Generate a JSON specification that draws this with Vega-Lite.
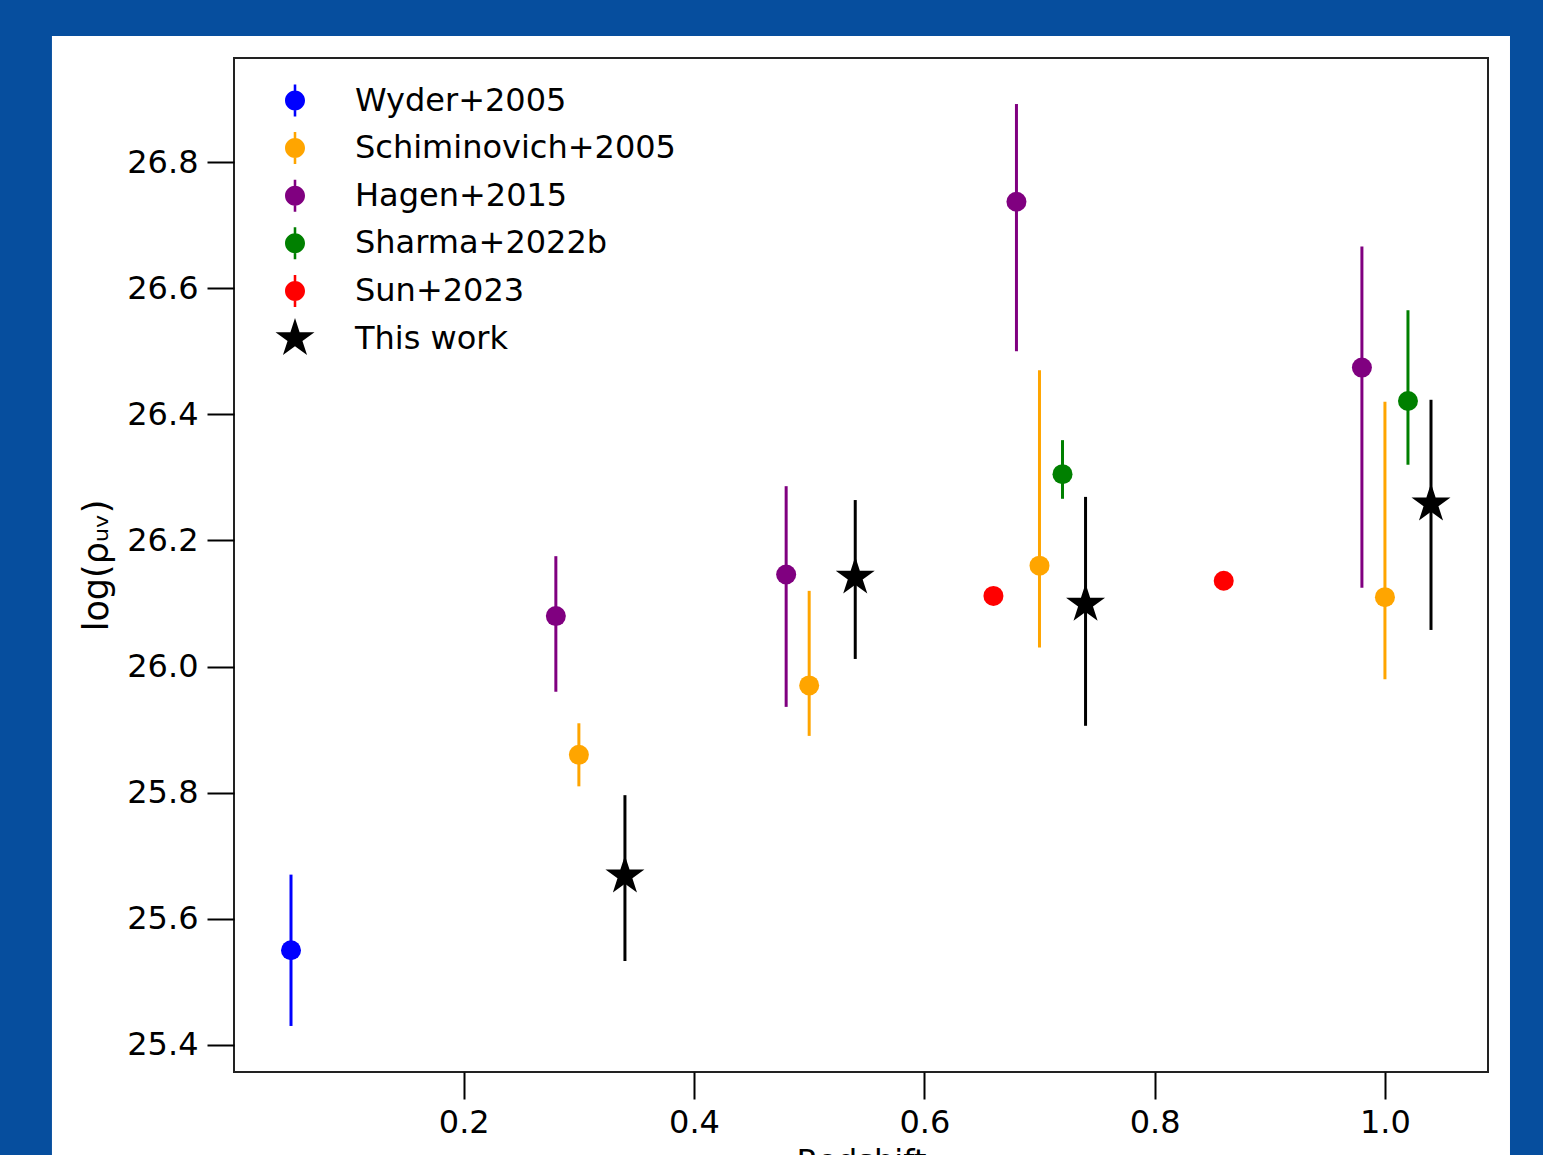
{
  "$schema": "https://vega.github.io/schema/vega-lite/v6.json",
  "autosize": {"type": "none"},
  "width": 1254,
  "height": 1014,
  "padding": {"left": 234, "top": 58, "right": 55, "bottom": 83},
  "background": "#064e9e",
  "config": {
    "font": "DejaVu Sans",
    "view": {"stroke": null},
    "axis": {
      "labelFont": "DejaVu Sans",
      "labelFontSize": 32,
      "labelColor": "#000000",
      "tickSize": 27,
      "tickWidth": 2,
      "tickColor": "#000000",
      "domain": false,
      "grid": false,
      "titleFont": "DejaVu Sans",
      "titleFontSize": 32,
      "titleFontWeight": "normal",
      "titleColor": "#000000"
    }
  },
  "resolve": {"legend": {"color": "independent", "shape": "independent"}},
  "data": {
    "values": [
      {"series": "Wyder+2005", "z": 0.05, "y": 25.55, "lo": 25.43, "hi": 25.67},
      {"series": "Schiminovich+2005", "z": 0.3, "y": 25.86, "lo": 25.81, "hi": 25.91},
      {"series": "Schiminovich+2005", "z": 0.5, "y": 25.97, "lo": 25.89, "hi": 26.12},
      {"series": "Schiminovich+2005", "z": 0.7, "y": 26.16, "lo": 26.03, "hi": 26.47},
      {"series": "Schiminovich+2005", "z": 1.0, "y": 26.11, "lo": 25.98, "hi": 26.42},
      {"series": "Hagen+2015", "z": 0.28, "y": 26.08, "lo": 25.96, "hi": 26.175},
      {"series": "Hagen+2015", "z": 0.48, "y": 26.146, "lo": 25.936, "hi": 26.286},
      {"series": "Hagen+2015", "z": 0.68, "y": 26.737, "lo": 26.5, "hi": 26.892},
      {"series": "Hagen+2015", "z": 0.98, "y": 26.474, "lo": 26.125, "hi": 26.666},
      {"series": "Sharma+2022b", "z": 0.72, "y": 26.305, "lo": 26.266, "hi": 26.359},
      {"series": "Sharma+2022b", "z": 1.02, "y": 26.421, "lo": 26.32, "hi": 26.565},
      {"series": "Sun+2023", "z": 0.66, "y": 26.112, "lo": 26.105, "hi": 26.119},
      {"series": "Sun+2023", "z": 0.86, "y": 26.136, "lo": 26.125, "hi": 26.146},
      {"series": "This work", "z": 0.34, "y": 25.668, "lo": 25.533, "hi": 25.796},
      {"series": "This work", "z": 0.54, "y": 26.142, "lo": 26.012, "hi": 26.264},
      {"series": "This work", "z": 0.74, "y": 26.099, "lo": 25.906, "hi": 26.269},
      {"series": "This work", "z": 1.04, "y": 26.258, "lo": 26.058, "hi": 26.423}
    ]
  },
  "layer": [
    {
      "data": {"values": [{}]},
      "mark": {"type": "rect", "fill": "#ffffff", "stroke": null},
      "encoding": {
        "x": {"datum": -0.1576, "type": "quantitative",
              "scale": {"domain": [0.0005, 1.0895], "nice": false, "zero": false},
              "axis": {"values": [0.2, 0.4, 0.6, 0.8, 1.0], "format": ".1f", "title": "Redshift", "labelPadding": 8, "titlePadding": 8, "zindex": 1}},
        "x2": {"datum": 1.1086},
        "y": {"datum": 27.0, "type": "quantitative",
              "scale": {"domain": [25.357, 26.965], "nice": false, "zero": false},
              "axis": {"values": [25.4, 25.6, 25.8, 26.0, 26.2, 26.4, 26.6, 26.8], "format": ".1f", "title": "log(ρᵤᵥ)", "titleFontSize": 35, "labelPadding": 9, "titlePadding": 12, "zindex": 1}},
        "y2": {"datum": 24.9}
      }
    },
    {
      "mark": {"type": "rule", "strokeWidth": 3},
      "encoding": {
        "x": {"field": "z", "type": "quantitative"},
        "y": {"field": "lo", "type": "quantitative"},
        "y2": {"field": "hi"},
        "color": {"field": "series", "type": "nominal", "legend": null,
                  "scale": {"domain": ["Wyder+2005", "Schiminovich+2005", "Hagen+2015", "Sharma+2022b", "Sun+2023", "This work"],
                            "range": ["#0000ff", "#ffa500", "#800080", "#008000", "#ff0000", "#000000"]}}
      }
    },
    {
      "transform": [{"filter": "datum.series !== 'This work'"}],
      "mark": {"type": "point", "shape": "circle", "size": 400, "filled": true, "opacity": 1, "strokeWidth": 0},
      "encoding": {
        "x": {"field": "z", "type": "quantitative"},
        "y": {"field": "y", "type": "quantitative"},
        "color": {"field": "series", "type": "nominal", "legend": null}
      }
    },
    {
      "transform": [{"filter": "datum.series === 'This work'"}],
      "mark": {"type": "point", "shape": "M0,-1L-0.2245,-0.309L-0.9511,-0.309L-0.3633,0.118L-0.5878,0.809L0,0.382L0.5878,0.809L0.3633,0.118L0.9511,-0.309L0.2245,-0.309Z", "size": 1681, "filled": true, "opacity": 1, "strokeWidth": 0},
      "encoding": {
        "x": {"field": "z", "type": "quantitative"},
        "y": {"field": "y", "type": "quantitative"},
        "color": {"field": "series", "type": "nominal", "legend": null}
      }
    },
    {
      "mark": {"type": "point", "filled": true, "opacity": 0, "size": 0},
      "encoding": {
        "x": {"field": "z", "type": "quantitative"},
        "y": {"field": "y", "type": "quantitative"},
        "color": {"field": "series", "type": "nominal",
                  "legend": {"title": null, "orient": "none", "legendX": 45, "legendY": 26.5, "direction": "vertical",
                             "symbolSize": 1024, "symbolOpacity": 1, "symbolStrokeWidth": 0,
                             "labelFont": "DejaVu Sans", "labelFontSize": 32, "labelColor": "#000000", "labelOffset": 44,
                             "rowPadding": 9.6, "padding": 0, "labelLimit": 1000, "zindex": 2}},
        "shape": {"field": "series", "type": "nominal",
                  "scale": {"domain": ["Wyder+2005", "Schiminovich+2005", "Hagen+2015", "Sharma+2022b", "Sun+2023", "This work"],
                            "range": [
                              "M0,-1.28L0,-1.28ZM0,1.0355L0,1.0355ZM0.625,0A0.625,0.625 0 1 1 -0.625,0A0.625,0.625 0 1 1 0.625,0ZM-0.08,-1L0.08,-1L0.08,1L-0.08,1Z",
                              "M0,-1.28L0,-1.28ZM0,1.0355L0,1.0355ZM0.625,0A0.625,0.625 0 1 1 -0.625,0A0.625,0.625 0 1 1 0.625,0ZM-0.08,-1L0.08,-1L0.08,1L-0.08,1Z",
                              "M0,-1.28L0,-1.28ZM0,1.0355L0,1.0355ZM0.625,0A0.625,0.625 0 1 1 -0.625,0A0.625,0.625 0 1 1 0.625,0ZM-0.08,-1L0.08,-1L0.08,1L-0.08,1Z",
                              "M0,-1.28L0,-1.28ZM0,1.0355L0,1.0355ZM0.625,0A0.625,0.625 0 1 1 -0.625,0A0.625,0.625 0 1 1 0.625,0ZM-0.08,-1L0.08,-1L0.08,1L-0.08,1Z",
                              "M0,-1.28L0,-1.28ZM0,1.0355L0,1.0355ZM0.625,0A0.625,0.625 0 1 1 -0.625,0A0.625,0.625 0 1 1 0.625,0ZM-0.08,-1L0.08,-1L0.08,1L-0.08,1Z",
                              "M0,-1.28L-0.2874,-0.3955L-1.2174,-0.3955L-0.465,0.151L-0.7524,1.0355L0,0.489L0.7524,1.0355L0.465,0.151L1.2174,-0.3955L0.2874,-0.3955Z"
                            ]},
                  "legend": {"title": null, "orient": "none", "legendX": 45, "legendY": 26.5, "direction": "vertical",
                             "symbolSize": 1024, "symbolOpacity": 1, "symbolStrokeWidth": 0,
                             "labelFont": "DejaVu Sans", "labelFontSize": 32, "labelColor": "#000000", "labelOffset": 44,
                             "rowPadding": 9.6, "padding": 0, "labelLimit": 1000, "zindex": 2}}
      }
    },
    {
      "data": {"values": [{}]},
      "mark": {"type": "rect", "filled": false, "stroke": "#222222", "strokeWidth": 2},
      "encoding": {
        "x": {"datum": 0.0005, "type": "quantitative"},
        "x2": {"datum": 1.0895},
        "y": {"datum": 26.965, "type": "quantitative"},
        "y2": {"datum": 25.357}
      }
    }
  ]
}
